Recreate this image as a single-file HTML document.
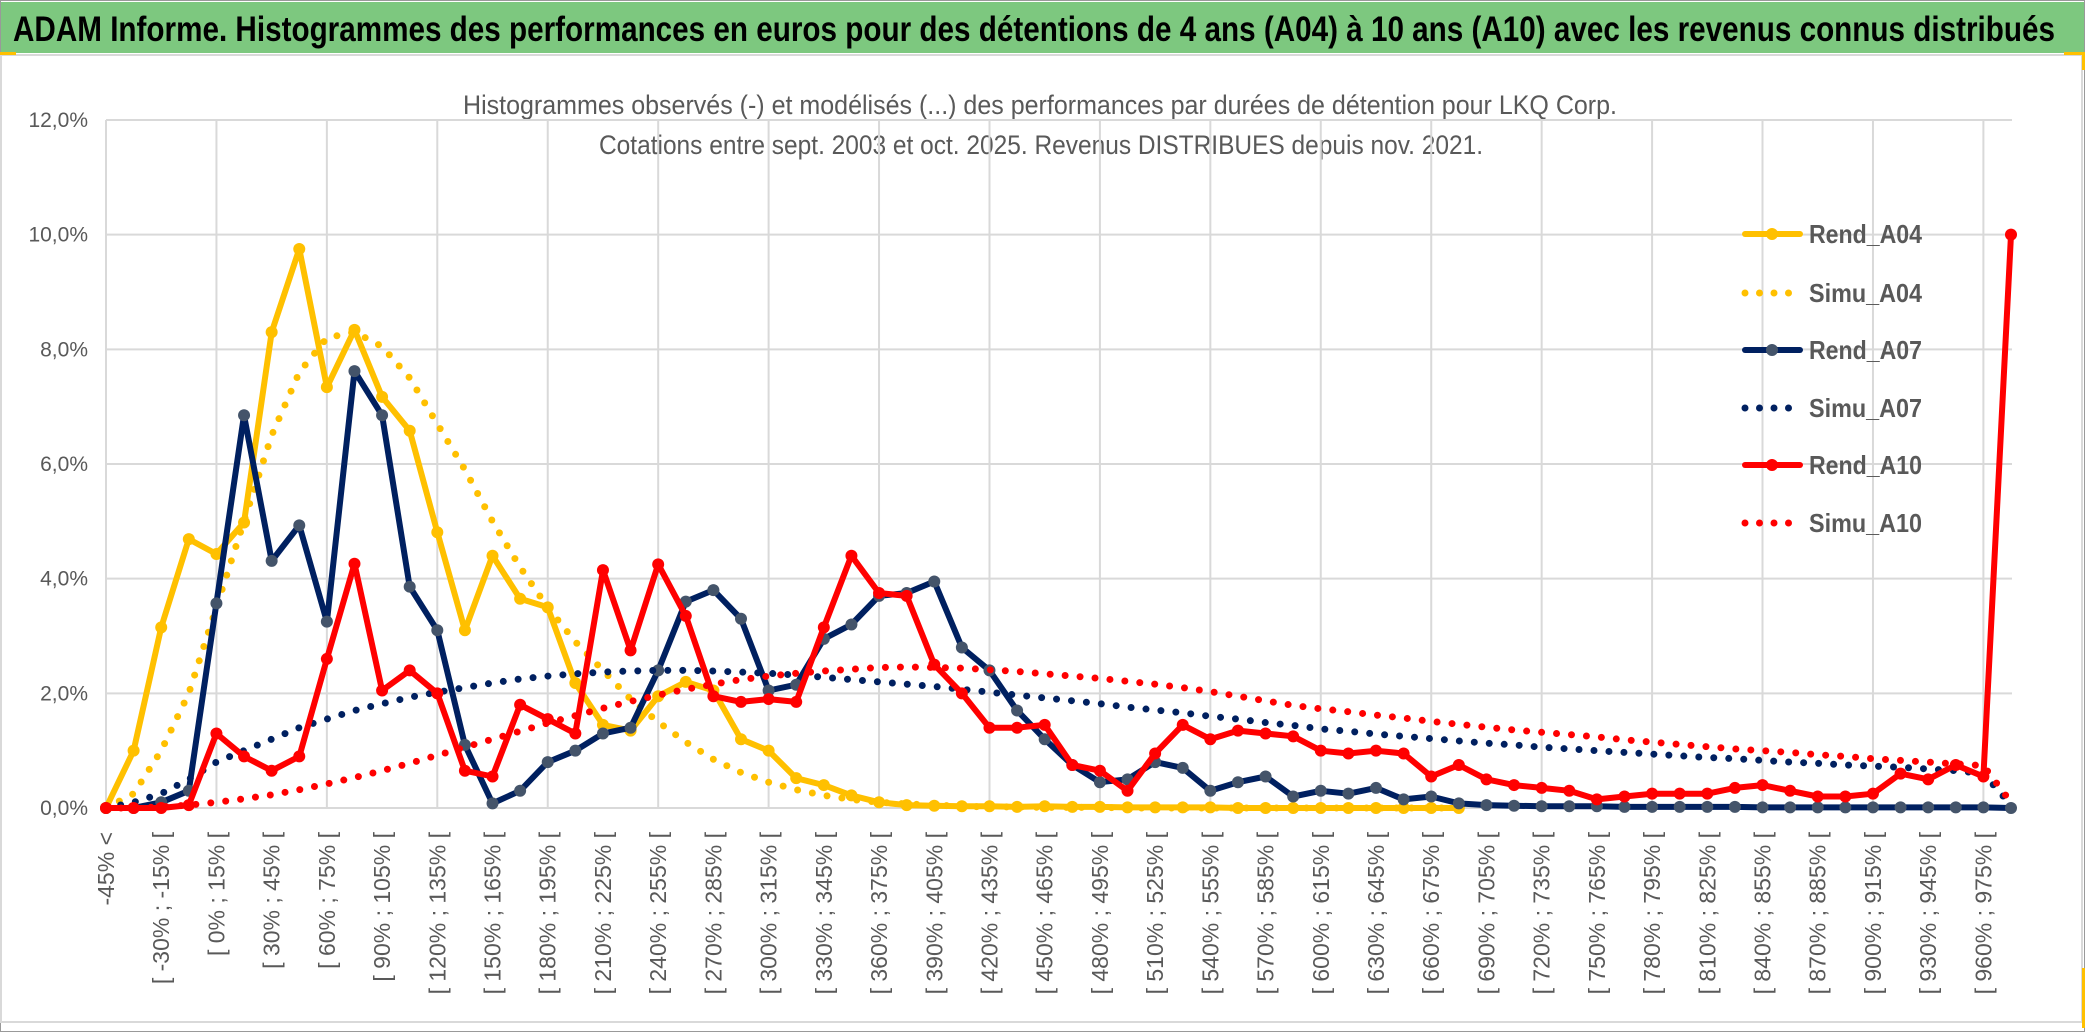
<!DOCTYPE html>
<html><head><meta charset="utf-8"><style>
html,body{margin:0;padding:0;background:#fff;}
svg{display:block;}
text{font-family:"Liberation Sans",sans-serif;}
</style></head><body>
<svg id="chart" xmlns="http://www.w3.org/2000/svg" width="2086" height="1033" viewBox="0 0 2086 1033">
<rect x="0.5" y="0.5" width="2084" height="1031" fill="#fff" stroke="#999" stroke-width="1"/>
<rect x="1" y="2" width="2083" height="51" fill="#7DC87F"/>
<text x="13" y="41" font-size="35" font-weight="bold" fill="#000" textLength="2042" lengthAdjust="spacingAndGlyphs">ADAM Informe. Histogrammes des performances en euros pour des détentions de 4 ans (A04) à 10 ans (A10) avec les revenus connus distribués</text>
<rect x="1" y="55" width="2081" height="967" fill="#fff" stroke="#d9d9d9" stroke-width="2"/>
<rect x="0" y="52" width="16" height="3" fill="#FFC000"/>
<rect x="2064" y="52" width="20" height="3" fill="#FFC000"/>
<rect x="2082" y="52" width="3" height="18" fill="#FFC000"/>
<rect x="2082" y="968" width="3" height="60" fill="#FFC000"/>
<text x="463" y="114" font-size="27" fill="#595959" textLength="1154" lengthAdjust="spacingAndGlyphs">Histogrammes observés (-) et modélisés (...) des performances par durées de détention pour LKQ Corp.</text>
<text x="599" y="154" font-size="27" fill="#595959" textLength="884" lengthAdjust="spacingAndGlyphs">Cotations entre sept. 2003 et oct. 2025. Revenus DISTRIBUES depuis nov. 2021.</text>
<g id="grid"></g>
<g id="ylabels"></g>
<g id="xlabels"></g>
<g id="series"></g>
<g id="legend"></g>
</svg>
<script>
const categories = ["-45% <","[ -45% ; -30% [","[ -30% ; -15% [","[ -15% ; 0% [","[ 0% ; 15% [","[ 15% ; 30% [","[ 30% ; 45% [","[ 45% ; 60% [","[ 60% ; 75% [","[ 75% ; 90% [","[ 90% ; 105% [","[ 105% ; 120% [","[ 120% ; 135% [","[ 135% ; 150% [","[ 150% ; 165% [","[ 165% ; 180% [","[ 180% ; 195% [","[ 195% ; 210% [","[ 210% ; 225% [","[ 225% ; 240% [","[ 240% ; 255% [","[ 255% ; 270% [","[ 270% ; 285% [","[ 285% ; 300% [","[ 300% ; 315% [","[ 315% ; 330% [","[ 330% ; 345% [","[ 345% ; 360% [","[ 360% ; 375% [","[ 375% ; 390% [","[ 390% ; 405% [","[ 405% ; 420% [","[ 420% ; 435% [","[ 435% ; 450% [","[ 450% ; 465% [","[ 465% ; 480% [","[ 480% ; 495% [","[ 495% ; 510% [","[ 510% ; 525% [","[ 525% ; 540% [","[ 540% ; 555% [","[ 555% ; 570% [","[ 570% ; 585% [","[ 585% ; 600% [","[ 600% ; 615% [","[ 615% ; 630% [","[ 630% ; 645% [","[ 645% ; 660% [","[ 660% ; 675% [","[ 675% ; 690% [","[ 690% ; 705% [","[ 705% ; 720% [","[ 720% ; 735% [","[ 735% ; 750% [","[ 750% ; 765% [","[ 765% ; 780% [","[ 780% ; 795% [","[ 795% ; 810% [","[ 810% ; 825% [","[ 825% ; 840% [","[ 840% ; 855% [","[ 855% ; 870% [","[ 870% ; 885% [","[ 885% ; 900% [","[ 900% ; 915% [","[ 915% ; 930% [","[ 930% ; 945% [","[ 945% ; 960% [","[ 960% ; 975% [","[ 975% ; 990% ["];
const yTicks = [0,2,4,6,8,10,12];
const yTickLabels = ["0,0%","2,0%","4,0%","6,0%","8,0%","10,0%","12,0%"];
const rendA04 = [0,1.0,3.15,4.69,4.43,4.98,8.3,9.75,7.34,8.34,7.17,6.58,4.81,3.1,4.4,3.65,3.5,2.18,1.45,1.35,1.95,2.2,2.05,1.2,1.0,0.52,0.4,0.22,0.1,0.05,0.04,0.03,0.03,0.02,0.03,0.02,0.02,0.01,0.01,0.01,0.01,0,0,0,0,0,0,0,0,0,null,null,null,null,null,null,null,null,null,null,null,null,null,null,null,null,null,null,null,null];
const simuA04 = [0,0.25,1.0,2.0,3.5,5.0,6.5,7.6,8.2,8.3,8.05,7.5,6.7,5.9,5.0,4.2,3.5,2.9,2.4,1.9,1.5,1.15,0.85,0.62,0.45,0.32,0.22,0.15,0.1,0.07,0.05,0.03,0.02,0.02,0.01,0.01,0.01,0,0,0,0,0,0,0,0,0,0,0,0,0,null,null,null,null,null,null,null,null,null,null,null,null,null,null,null,null,null,null,null,null];
const rendA07 = [0,0,0.1,0.3,3.57,6.85,4.31,4.93,3.25,7.62,6.85,3.86,3.1,1.1,0.08,0.3,0.8,1.0,1.3,1.4,2.4,3.6,3.8,3.3,2.05,2.15,2.95,3.2,3.7,3.75,3.95,2.8,2.4,1.7,1.2,0.75,0.45,0.5,0.8,0.7,0.3,0.45,0.55,0.2,0.3,0.25,0.35,0.15,0.2,0.08,0.05,0.04,0.03,0.03,0.03,0.02,0.02,0.02,0.02,0.02,0.01,0.01,0.01,0.01,0.01,0.01,0.01,0.01,0.01,0];
const simuA07 = [0,0.1,0.25,0.5,0.8,1.0,1.2,1.4,1.55,1.7,1.82,1.93,2.02,2.1,2.18,2.25,2.3,2.34,2.37,2.39,2.4,2.4,2.39,2.37,2.35,2.32,2.28,2.24,2.2,2.16,2.12,2.07,2.02,1.97,1.92,1.87,1.82,1.76,1.71,1.66,1.6,1.55,1.49,1.44,1.38,1.34,1.29,1.25,1.21,1.17,1.13,1.1,1.06,1.03,1.0,0.97,0.94,0.91,0.88,0.86,0.83,0.8,0.78,0.75,0.73,0.71,0.68,0.65,0.6,0.05];
const rendA10 = [0,0,0,0.05,1.3,0.9,0.65,0.9,2.6,4.26,2.05,2.4,2.0,0.65,0.55,1.8,1.55,1.3,4.15,2.75,4.25,3.35,1.95,1.85,1.9,1.85,3.15,4.4,3.75,3.7,2.5,2.0,1.4,1.4,1.45,0.75,0.65,0.3,0.95,1.45,1.2,1.35,1.3,1.25,1.0,0.95,1.0,0.95,0.55,0.75,0.5,0.4,0.35,0.3,0.15,0.2,0.25,0.25,0.25,0.35,0.4,0.3,0.2,0.2,0.25,0.6,0.5,0.75,0.55,10.0];
const simuA10 = [0,0,0.02,0.05,0.1,0.16,0.23,0.32,0.42,0.53,0.65,0.78,0.92,1.06,1.2,1.34,1.48,1.61,1.74,1.86,1.97,2.07,2.16,2.24,2.3,2.35,2.39,2.42,2.45,2.46,2.45,2.44,2.41,2.38,2.34,2.3,2.26,2.21,2.16,2.1,2.03,1.95,1.87,1.79,1.73,1.68,1.62,1.57,1.51,1.46,1.41,1.36,1.32,1.28,1.24,1.19,1.15,1.11,1.07,1.03,1.0,0.97,0.93,0.9,0.86,0.83,0.8,0.77,0.74,0.1];
const seriesNames = ["Rend_A04","Simu_A04","Rend_A07","Simu_A07","Rend_A10","Simu_A10"];

const NS = "http://www.w3.org/2000/svg";
const X0 = 106, X1 = 2011, Y0 = 808, Y12 = 120;
function xScale(i){ return X0 + i * (X1 - X0) / (categories.length - 1); }
function yScale(v){ return Y0 - v * (Y0 - Y12) / 12; }
function mk(tag, attrs, parent){ const e = document.createElementNS(NS, tag); for (const k in attrs) e.setAttribute(k, attrs[k]); parent.appendChild(e); return e; }

const grid = document.getElementById('grid');
yTicks.forEach(function(t){
  const l = mk('line', {x1:X0, x2:2012, y1:yScale(t), y2:yScale(t), stroke:'#d9d9d9', 'stroke-width':2}, grid);
  
  
});
for (let i = 0; i < categories.length; i += 4) {
  const l = mk('line', {x1:xScale(i), x2:xScale(i), y1:Y12, y2:Y0, stroke:'#d9d9d9', 'stroke-width':2}, grid);
  
  
}
const yl = document.getElementById('ylabels');
yTicks.forEach(function(t, k){
  const tx = mk('text', {x:88, y:yScale(t)+7, 'font-size':21, fill:'#595959', 'text-anchor':'end'}, yl);
  tx.textContent = yTickLabels[k];
  
  
});
const xl = document.getElementById('xlabels');
categories.forEach(function(c, i){
  if (i % 2) return;
  const x = xScale(i) + 8, y = 832;
  const tx = mk('text', {x:x, y:y, 'font-size':23, fill:'#595959', 'text-anchor':'end', transform:'rotate(-90 '+x+' '+y+')'}, xl);
  tx.textContent = c;
  
  
});

const sg = document.getElementById('series');
function pathFor(arr){
  let d = '', pen = false;
  arr.forEach(function(v, i){
    if (v === null) { pen = false; return; }
    d += (pen ? 'L' : 'M') + xScale(i).toFixed(1) + ' ' + yScale(v).toFixed(1);
    pen = true;
  });
  return d;
}
function drawSolid(arr, color, mcolor, name){
  const g = mk('g', {}, sg);
  
  
  const p = mk('path', {d:pathFor(arr), fill:'none', stroke:color, 'stroke-width':6, 'stroke-linejoin':'round', 'stroke-linecap':'round'}, g);
  
  
  arr.forEach(function(v, i){
    if (v === null) return;
    const c = mk('circle', {cx:xScale(i), cy:yScale(v), r:6, fill:mcolor}, g);
    
    
  });
}
function drawDotted(arr, color, name){
  const p = mk('path', {d:pathFor(arr), fill:'none', stroke:color, 'stroke-width':7, 'stroke-linecap':'round', 'stroke-dasharray':'0 15'}, sg);
  
  
}
drawSolid(rendA04, '#FFC000', '#FFC000', 'rend-a04');
drawDotted(simuA04, '#FFC000', 'simu-a04');
drawSolid(rendA07, '#002060', '#44546A', 'rend-a07');
drawDotted(simuA07, '#002060', 'simu-a07');
drawSolid(rendA10, '#FF0000', '#FF0000', 'rend-a10');
drawDotted(simuA10, '#FF0000', 'simu-a10');

const lg = document.getElementById('legend');
const legColors = ['#FFC000','#FFC000','#002060','#002060','#FF0000','#FF0000'];
const legMarker = ['#FFC000',null,'#44546A',null,'#FF0000',null];
const legY = [234,293,350,408,465,523];
seriesNames.forEach(function(n, k){
  const g = mk('g', {}, lg);
  
  
  const y = legY[k];
  if (k % 2 === 0) {
    mk('line', {x1:1745, x2:1800, y1:y, y2:y, stroke:legColors[k], 'stroke-width':6, 'stroke-linecap':'round'}, g);
    mk('circle', {cx:1772, cy:y, r:6, fill:legMarker[k]}, g);
  } else {
    mk('line', {x1:1745, x2:(k===5?1800:1789), y1:y, y2:y, stroke:legColors[k], 'stroke-width':7, 'stroke-linecap':'round', 'stroke-dasharray':'0 14.5'}, g);
  }
  const t = mk('text', {x:1809, y:y+9, 'font-size':26, 'font-weight':'bold', fill:'#595959', textLength:113, lengthAdjust:'spacingAndGlyphs'}, g);
  t.textContent = n;
});
</script>
</body></html>
